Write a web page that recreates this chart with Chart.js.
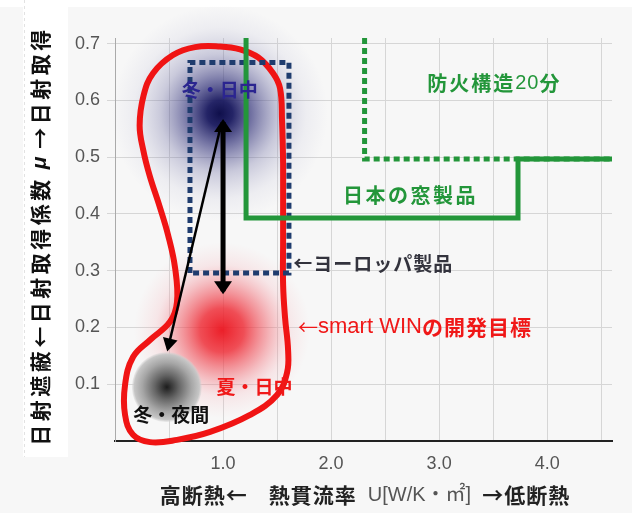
<!DOCTYPE html>
<html>
<head>
<meta charset="utf-8">
<script src="https://cdn.jsdelivr.net/npm/chart.js@4.4.1/dist/chart.umd.min.js"></script>
<style>
  html, body { margin: 0; padding: 0; background: #f7f7f7; }
  #wrap { position: relative; width: 632px; height: 513px; }
</style>
</head>
<body>
<div id="wrap"><canvas id="c"></canvas></div>
<script>
// U-value (x) vs solar heat gain coefficient (y) positioning chart

const xTickValues = [0, 0.5, 1, 1.5, 2, 2.5, 3, 3.5, 4, 4.5];
const xTickLabels = ['', '', '1.0', '', '2.0', '', '3.0', '', '4.0', ''];
const yTickValues = [0.1, 0.2, 0.3, 0.4, 0.5, 0.6, 0.7];
const yTickLabels = ['0.1', '0.2', '0.3', '0.4', '0.5', '0.6', '0.7'];

// smart WIN target region (closed red outline)
const targetX = [1.556, 1.556, 1.546, 1.528, 1.463, 1.324, 1.157, 0.972, 0.741, 0.537,
                 0.352, 0.265, 0.228, 0.262, 0.320, 0.415, 0.491, 0.556, 0.574, 0.509,
                 0.324, 0.167, 0.093, 0.093, 0.167, 0.324, 0.574, 0.880, 1.250, 1.500,
                 1.593, 1.602, 1.574, 1.556, 1.556, 1.556, 1.556];
const targetY = [0.424, 0.489, 0.565, 0.621, 0.648, 0.676, 0.690, 0.695, 0.694, 0.680,
                 0.648, 0.609, 0.556, 0.512, 0.468, 0.412, 0.363, 0.305, 0.245, 0.210,
                 0.178, 0.148, 0.099, 0.046, 0.011, -0.002, 0.002, 0.016, 0.046, 0.081,
                 0.121, 0.160, 0.217, 0.275, 0.354, 0.424, 0.489];

// European products (dotted box)
const euroX = [0.694, 0.694, 1.61, 1.61, 0.694];
const euroY = [0.296, 0.667, 0.667, 0.296, 0.296];

// Japanese window products (solid step)
const japanX = [1.213, 1.213, 3.73, 3.73, 4.6];
const japanY = [0.71, 0.393, 0.393, 0.497, 0.497];

// fire-resistant 20 min (dotted step)
const fireX = [2.31, 2.31, 4.6];
const fireY = [0.71, 0.497, 0.497];

// arrows: winter day -> summer day, winter day -> winter night
const arrowVX = [1.0, 1.0];
const arrowVY = [0.562, 0.264];
const arrowDX = [0.975, 0.49];
const arrowDY = [0.552, 0.163];

// state blobs: winter day, summer day, winter night
const blobX = [0.97, 0.99, 0.48];
const blobY = [0.577, 0.195, 0.095];

const FONT = "'Liberation Sans', 'Noto Sans CJK JP', sans-serif";
const CJK = "'Noto Sans CJK JP', sans-serif";

const notes = [
  { x: 0.97, y: 0.618, align: 'center', parts: [['冬・日中', 'bold 19px', '#2b2590', 0, CJK]] },
  { x: 1.29, y: 0.095, align: 'center', parts: [['夏・日中', 'bold 19px', '#f01818', 0, CJK]] },
  { x: 0.52, y: 0.046, align: 'center', parts: [['冬・夜間', 'bold 19px', '#111', 0, CJK]] },
  { x: 1.65, y: 0.313, align: 'left', parts: [['←ヨーロッパ製品', 'bold 19px', '#33333d', 1, CJK]] },
  { x: 1.694, y: 0.201, align: 'left', parts: [['←', '20px', '#f01818', 0, CJK],
                                             ['smart WIN', '22px', '#f01818', 0, FONT],
                                             ['の開発目標', 'bold 21px', '#f01818', 1, CJK]] },
  { x: 2.889, y: 0.630, align: 'left', parts: [['防火構造', 'bold 20px', '#23963a', 2, CJK],
                                             ['20', '20px', '#23963a', 1, FONT],
                                             ['分', 'bold 20px', '#23963a', 2, CJK]] },
  { x: 2.111, y: 0.433, align: 'left', parts: [['日本の窓製品', 'bold 20px', '#23963a', 2.5, CJK]] }
];

function pts(xs, ys) {
  return xs.map(function (x, i) { return { x: x, y: ys[i] }; });
}

function drawParts(ctx, parts, x, y, align) {
  let total = 0;
  parts.forEach(function (p) {
    ctx.font = p[1] + ' ' + (p[4] || FONT);
    ctx.letterSpacing = p[3] + 'px';
    total += ctx.measureText(p[0]).width;
  });
  let cx = align === 'center' ? x - total / 2 : x;
  ctx.textAlign = 'left';
  ctx.textBaseline = 'middle';
  parts.forEach(function (p) {
    ctx.font = p[1] + ' ' + (p[4] || FONT);
    ctx.letterSpacing = p[3] + 'px';
    ctx.fillStyle = p[2];
    ctx.fillText(p[0], cx, y);
    cx += ctx.measureText(p[0]).width;
  });
  ctx.letterSpacing = '0px';
}

function arrowHead(ctx, from, to, len, half) {
  const a = Math.atan2(to.y - from.y, to.x - from.x);
  const tx = to.x + Math.cos(a) * 3, ty = to.y + Math.sin(a) * 3;
  ctx.beginPath();
  ctx.moveTo(tx, ty);
  ctx.lineTo(tx - Math.cos(a) * len - Math.sin(a) * half, ty - Math.sin(a) * len + Math.cos(a) * half);
  ctx.lineTo(tx - Math.cos(a) * len + Math.sin(a) * half, ty - Math.sin(a) * len - Math.cos(a) * half);
  ctx.closePath();
  ctx.fill();
}

const decor = {
  id: 'decor',
  beforeDraw: function (chart) {
    const ctx = chart.ctx;
    ctx.save();
    ctx.fillStyle = '#f7f7f7';
    ctx.fillRect(0, 0, chart.width, chart.height);
    ctx.fillStyle = '#ffffff';
    ctx.fillRect(0, 0, chart.width, 7);
    ctx.fillRect(23, 7, 45, 450);
    ctx.strokeStyle = '#e2e2e2';
    ctx.setLineDash([3, 3]);
    ctx.beginPath();
    ctx.moveTo(24.5, 0);
    ctx.lineTo(24.5, 457);
    ctx.stroke();
    ctx.restore();
  },
  beforeDatasetsDraw: function (chart) {
    const ctx = chart.ctx, xs = chart.scales.x, ys = chart.scales.y;
    const styles = [
      { r: 108, stops: [[0, 'rgba(15,15,75,1)'], [0.12, 'rgba(25,25,95,0.95)'], [0.3, 'rgba(55,55,125,0.68)'],
                        [0.55, 'rgba(105,105,160,0.32)'], [0.8, 'rgba(150,150,190,0.1)'], [1, 'rgba(150,150,190,0)']] },
      { r: 88, stops: [[0, 'rgba(235,20,30,0.95)'], [0.25, 'rgba(238,40,50,0.82)'], [0.5, 'rgba(240,90,100,0.5)'],
                       [0.75, 'rgba(245,150,160,0.18)'], [1, 'rgba(245,170,175,0)']] },
      { r: 35, stops: [[0, '#1c1c1c'], [0.35, '#666'], [0.7, '#a6a6a6'], [0.93, '#c6c6c6'], [1, 'rgba(210,210,210,0.3)']] }
    ];
    ctx.save();
    blobX.forEach(function (bx, i) {
      const px = xs.getPixelForValue(bx), py = ys.getPixelForValue(blobY[i]);
      const s = styles[i];
      const g = ctx.createRadialGradient(px, py, 0, px, py, s.r);
      s.stops.forEach(function (st) { g.addColorStop(st[0], st[1]); });
      ctx.fillStyle = g;
      ctx.beginPath();
      ctx.arc(px, py, s.r, 0, Math.PI * 2);
      ctx.fill();
    });
    ctx.restore();
  },
  afterDatasetsDraw: function (chart) {
    const ctx = chart.ctx, xs = chart.scales.x, ys = chart.scales.y;
    ctx.save();
    // arrow heads on the arrow datasets
    ctx.fillStyle = '#000';
    const v = chart.getDatasetMeta(0).data;
    arrowHead(ctx, v[1], v[0], 13, 9);
    arrowHead(ctx, v[0], v[1], 13, 9);
    const d = chart.getDatasetMeta(1).data;
    arrowHead(ctx, d[0], d[1], 13, 7.5);

    notes.forEach(function (n) {
      drawParts(ctx, n.parts, xs.getPixelForValue(n.x), ys.getPixelForValue(n.y), n.align);
    });

    // axis titles
    const xParts = [['高断熱←', 'bold 21px', '#222', 1, CJK], ['　', 'bold 21px', '#222', 0, CJK],
                    ['熱貫流率', 'bold 21px', '#222', 1, CJK], ['  U[W/K・㎡]  ', '20px', '#555', 0, FONT],
                    ['→低断熱', 'bold 21px', '#222', 1, CJK]];
    drawParts(ctx, xParts, 365, 495, 'center');

    ctx.translate(40, 236);
    ctx.rotate(-Math.PI / 2);
    drawParts(ctx, [['日射遮蔽←日射取得係数', 'bold 21px', '#111', 3.5, CJK],
                    [' μ ', 'bold italic 21px', '#111', 1, FONT],
                    ['→日射取得', 'bold 21px', '#111', 3.5, CJK]], 0, 0, 'center');
    ctx.restore();
  }
};

new Chart(document.getElementById('c'), {
  type: 'scatter',
  data: {
    datasets: [
      { data: pts(arrowVX, arrowVY), showLine: true, borderColor: '#000', borderWidth: 5,
        pointRadius: 0, clip: false },
      { data: pts(arrowDX, arrowDY), showLine: true, borderColor: '#000', borderWidth: 2.5,
        pointRadius: 0, clip: false },
      { data: pts(japanX, japanY), showLine: true, borderColor: '#23963a', borderWidth: 5,
        pointRadius: 0, clip: false },
      { data: pts(fireX, fireY), showLine: true, borderColor: '#23963a', borderWidth: 5,
        borderDash: [6, 4], pointRadius: 0, clip: false },
      { data: pts(euroX, euroY), showLine: true, borderColor: '#1f3c6e', borderWidth: 5,
        borderDash: [6, 4], pointRadius: 0, clip: false },
      { data: pts(targetX, targetY), showLine: true, borderColor: '#f01414', borderWidth: 6,
        tension: 0.4, pointRadius: 0, clip: false }
    ]
  },
  options: {
    responsive: true,
    maintainAspectRatio: false,
    animation: false,
    events: [],
    layout: { padding: { top: 38, right: 20, left: 0, bottom: 0 } },
    plugins: { legend: { display: false }, tooltip: { enabled: false } },
    scales: {
      x: {
        type: 'linear', min: 0, max: 4.6,
        afterFit: function (s) { s.height = 72; },
        afterBuildTicks: function (s) { s.ticks = xTickValues.map(function (v) { return { value: v }; }); },
        grid: { color: '#d6d6d6', drawTicks: false },
        border: { color: '#222', width: 2 },
        ticks: {
          padding: 12, color: '#555', font: { family: FONT, size: 18 },
          maxRotation: 0, autoSkip: false,
          callback: function (v, i) { return xTickLabels[i]; }
        }
      },
      y: {
        type: 'linear', min: 0, max: 0.71,
        afterFit: function (s) { s.width = 115; },
        afterBuildTicks: function (s) { s.ticks = yTickValues.map(function (v) { return { value: v }; }); },
        grid: { color: '#d6d6d6', tickLength: 8 },
        border: { color: '#aaa', width: 1 },
        ticks: {
          padding: 7, color: '#555', font: { family: FONT, size: 18 },
          callback: function (v, i) { return yTickLabels[i]; }
        }
      }
    }
  },
  plugins: [decor]
});
</script>
</body>
</html>
